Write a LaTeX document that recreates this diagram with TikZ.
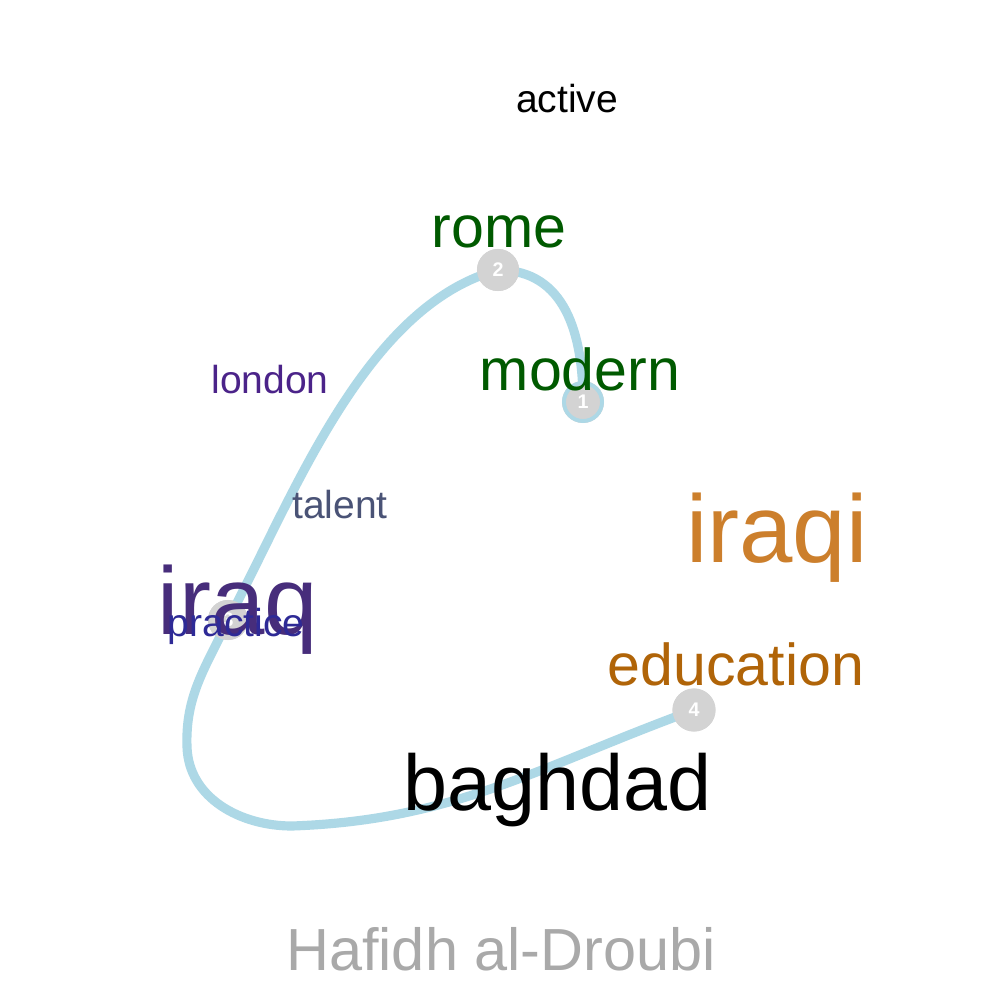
\documentclass[tikz,border=0pt]{standalone}
\usepackage{fontspec}
\setmainfont{Liberation Sans}
\usetikzlibrary{positioning}

\definecolor{pathblue}{HTML}{ADD8E6}
\definecolor{stopgray}{HTML}{D3D3D3}
\definecolor{wordgreen}{HTML}{005A00}
\definecolor{iraqpurple}{HTML}{472D7B}
\definecolor{londonpurple}{HTML}{4B2389}
\definecolor{practiceblue}{HTML}{2E2A96}
\definecolor{talentslate}{HTML}{4A5376}
\definecolor{iraqiorange}{HTML}{CC7F2C}
\definecolor{eduorange}{HTML}{B06408}
\definecolor{titlegray}{HTML}{A9A9A9}

\tikzset{
  word/.style={anchor=base, inner sep=0pt},
  stop/.style={circle, fill=stopgray, inner sep=0pt, minimum size=#1, text=white,
    font=\fontsize{5.6}{6.5}\selectfont\bfseries},
}

\begin{document}
\begin{tikzpicture}[x=0.01cm, y=-0.01cm]
				\useasboundingbox [fill=white] (0,0) rectangle (1000,1000);
				% stops along the path
				\node [stop=0.42cm] (s1) at (583,402) {};
				\node [stop=0.42cm] (s2) at (498,270) {};
				\node [stop=0.40cm] (s3) at (228,620) {};
				\node [stop=0.43cm] (s4) at (694,710) {};
				\draw [line width=2.6pt, color=pathblue, line cap=round] (s1.center) to[out=90,in=0,looseness=1.1] (s2.center) to[out=195,in=62,looseness=0.8] (s3.center) to[out=245,in=92] (187,747) to[out=272,in=180] (292,826) to[out=2,in=200] (s4.center);
				\node [stop=0.38cm, draw=pathblue, line width=1.1pt] at (s1) {1};
				\node [stop=0.42cm] at (s2) {2};
				\node [stop=0.40cm] at (s3) {3};
				\node [stop=0.43cm] at (s4) {4};
				% words
				\node [word, font=\fontsize{11.1}{13}\selectfont] (active) at (567,112) {active};
				\node [word, font=\fontsize{16.8}{20}\selectfont, text=wordgreen] (rome) at (499,247) {rome};
				\node [word, font=\fontsize{16.8}{20}\selectfont, text=wordgreen] (modern) at (580,390) {modern};
				\node [word, font=\fontsize{11.1}{13}\selectfont, text=londonpurple] (london) at (270,393) {london};
				\node [word, font=\fontsize{11.1}{13}\selectfont, text=talentslate] (talent) at (340,518) {talent};
				\node [word, font=\fontsize{27.3}{32}\selectfont, text=iraqiorange] (iraqi) at (777,562) {iraqi};
				\node [word, font=\fontsize{27.3}{32}\selectfont, text=iraqpurple] (iraq) at (238,634) {iraq};
				\node [word, font=\fontsize{11.1}{13}\selectfont, text=practiceblue] (practice) at (236,636) {practice};
				\node [word, font=\fontsize{16.8}{20}\selectfont, text=eduorange] (education) at (736,685) {education};
				\node [word, font=\fontsize{22.5}{27}\selectfont] (baghdad) at (558,810) {baghdad};
				\node [word, font=\fontsize{16.9}{20}\selectfont, text=titlegray] (title) at (501,970) {Hafidh al-Droubi};
			\end{tikzpicture}
\end{document}
